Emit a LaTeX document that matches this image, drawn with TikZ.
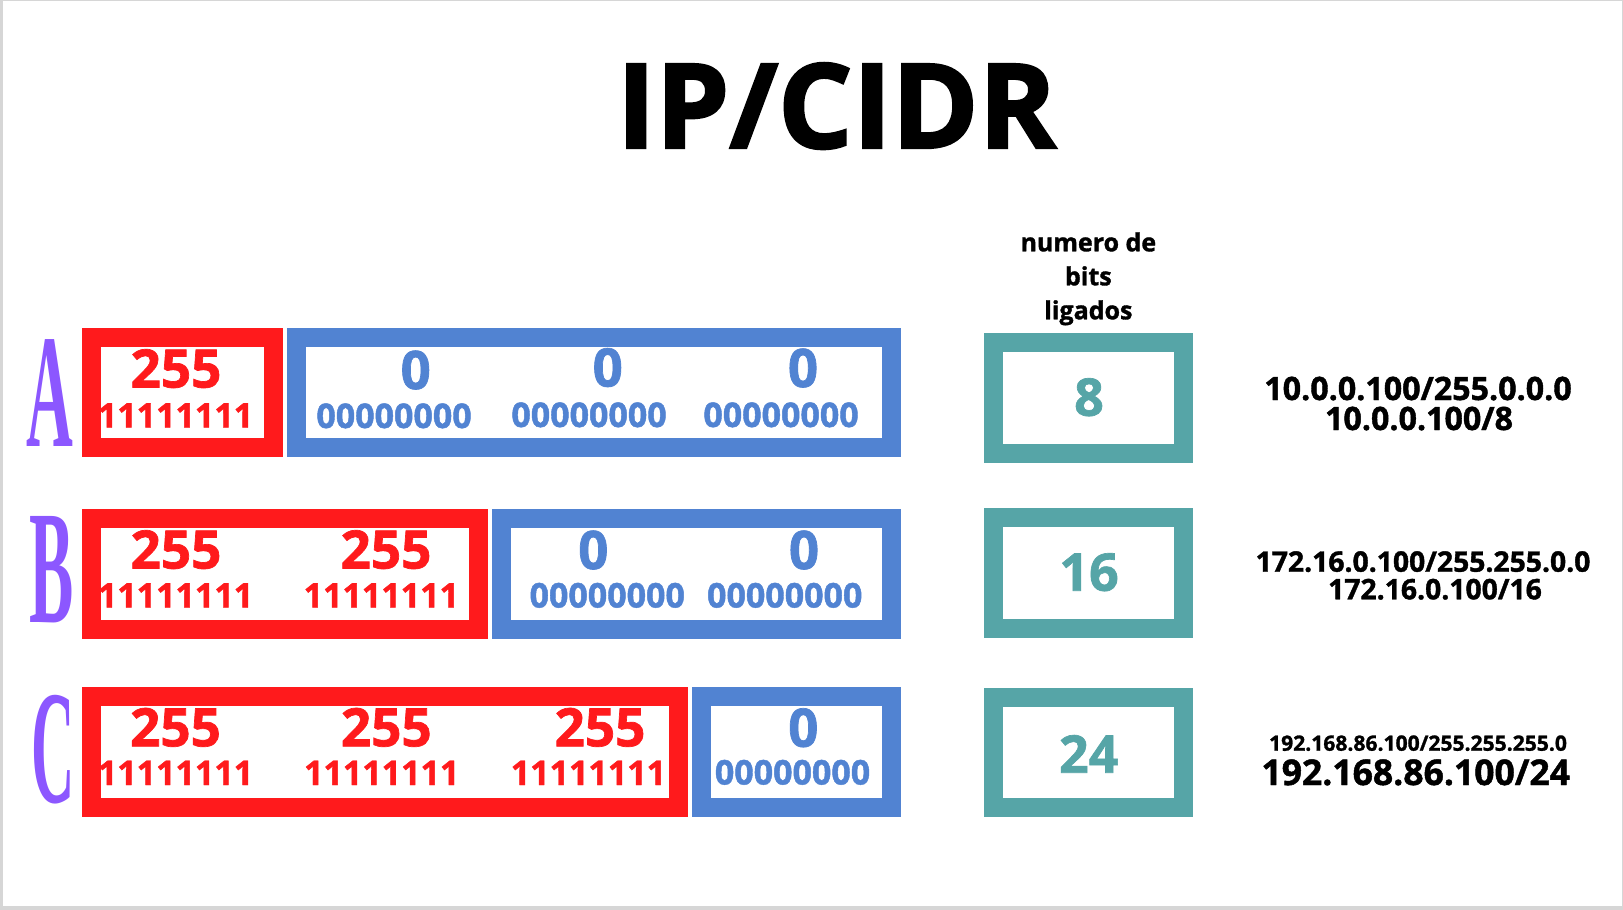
\documentclass[tikz,border=0pt]{standalone}
\usepackage{fontspec}
\setmainfont{Open Sans}[BoldFeatures={FakeBold=1.3}]
\newfontfamily\headfont{Open Sans}[BoldFeatures={FakeBold=2}]
\newfontfamily\classfont{Liberation Serif}
\usepackage{xcolor}
\usetikzlibrary{positioning}

\definecolor{netred}{HTML}{FF1A1C}
\definecolor{hostblue}{HTML}{5183D2}
\definecolor{countteal}{HTML}{56A5A7}
\definecolor{classviolet}{HTML}{8C57FF}
\definecolor{edgegray}{HTML}{D6D6D6}

\begin{document}
\begin{tikzpicture}[
    x=1pt, y=-1pt,
    every node/.style={inner sep=0pt, outer sep=0pt},
    octet/.style={draw=#1, line width=19pt, fill=white, anchor=north west},
    dec/.style={text=#1, anchor=base, font=\bfseries\fontsize{53}{53}\selectfont},
    bin/.style={text=#1, anchor=base, font=\bfseries\fontsize{34}{34}\selectfont},
    count/.style={text=countteal, anchor=base, font=\bfseries\fontsize{52}{52}\selectfont},
    classlbl/.style={text=classviolet, font=\classfont\bfseries\fontsize{162}{162}\selectfont},
    cidr/.style={anchor=base, font=\bfseries\fontsize{#1}{#1}\selectfont}
]

\fill[edgegray] (0,0) rectangle (1623,910);
\fill[white] (2.7,0.8) rectangle (1621.5,906);
\useasboundingbox (0,0) rectangle (1623,910);

\node[anchor=base, font=\headfont\bfseries\fontsize{117.5}{117.5}\selectfont] (title) at (836.5,148) {IP/CIDR};

% class A
\node[classlbl] (classa) at (50,393.5) {\scalebox{0.4}[1]{A}};
\node[octet=netred, minimum width=182pt, minimum height=110pt] (neta) at (91.2,337.8) {};
\node[octet=hostblue, minimum width=595pt, minimum height=110pt] (hosta) at (296.2,337.8) {};
\node[dec=netred] (a1dec) at (176,387.5) {255};
\node[bin=netred] (a1bin) at (175.5,427.5) {11111111};
\node[dec=hostblue] (a2dec) at (415.7,389) {0};
\node[bin=hostblue] (a2bin) at (394,428) {00000000};
\node[dec=hostblue] (a3dec) at (607.7,386.5) {0};
\node[bin=hostblue] (a3bin) at (589,427) {00000000};
\node[dec=hostblue] (a4dec) at (803,387) {0};
\node[bin=hostblue] (a4bin) at (781,427) {00000000};

% class B
\node[classlbl] (classb) at (52,570) {\scalebox{0.41}[1]{B}};
\node[octet=netred, minimum width=387pt, minimum height=110.7pt] (netb) at (91.2,518.8) {};
\node[octet=hostblue, minimum width=390pt, minimum height=110.7pt] (hostb) at (501.2,518.8) {};
\node[dec=netred] (b1dec) at (176,568.5) {255};
\node[bin=netred] (b1bin) at (175.5,607.5) {11111111};
\node[dec=netred] (b2dec) at (386,568.5) {255};
\node[bin=netred] (b2bin) at (381.3,607.5) {11111111};
\node[dec=hostblue] (b3dec) at (593.3,569) {0};
\node[bin=hostblue] (b3bin) at (607.2,607.5) {00000000};
\node[dec=hostblue] (b4dec) at (804,569) {0};
\node[bin=hostblue] (b4bin) at (784.7,607.5) {00000000};

% class C
\node[classlbl] (classc) at (52.7,749.5) {\scalebox{0.37}[1]{C}};
\node[octet=netred, minimum width=587.6pt, minimum height=111pt] (netc) at (91.2,696.8) {};
\node[octet=hostblue, minimum width=189.4pt, minimum height=111pt] (hostc) at (701.8,696.8) {};
\node[dec=netred] (c1dec) at (175.5,746.3) {255};
\node[bin=netred] (c1bin) at (175.5,785) {11111111};
\node[dec=netred] (c2dec) at (386.3,746.3) {255};
\node[bin=netred] (c2bin) at (381.7,785) {11111111};
\node[dec=netred] (c3dec) at (600,746.3) {255};
\node[bin=netred] (c3bin) at (588.4,785) {11111111};
\node[dec=hostblue] (c4dec) at (803.3,746.7) {0};
\node[bin=hostblue] (c4bin) at (792.5,784.5) {00000000};

% bits on
\node[octet=countteal, minimum width=189.7pt, minimum height=110.4pt] (bitsa) at (993.5,342.8) {};
\node[octet=countteal, minimum width=189.7pt, minimum height=110.7pt] (bitsb) at (993.5,517.8) {};
\node[octet=countteal, minimum width=189.7pt, minimum height=110.6pt] (bitsc) at (993.5,697.2) {};
\node[count] (na) at (1089,415.7) {8};
\node[count] (nb) at (1089,590.7) {16};
\node[count] (nc) at (1088.7,772.7) {24};
\node[above=17.5pt of bitsa, align=center, font=\bfseries\fontsize{25}{34}\selectfont] (head) {numero de\\bits\\ligados};

% notation
\node[cidr=32.2] (ra1) at (1418,400) {10.0.0.100/255.0.0.0};
\node[cidr=32.2] (ra2) at (1419,430) {10.0.0.100/8};
\node[cidr=28.3] (rb1) at (1423,571.7) {172.16.0.100/255.255.0.0};
\node[cidr=28.3] (rb2) at (1435,599.3) {172.16.0.100/16};
\node[cidr=21.1] (rc1) at (1418,750.7) {192.168.86.100/255.255.255.0};
\node[cidr=35.5] (rc2) at (1415.7,785) {192.168.86.100/24};

\end{tikzpicture}
\end{document}
